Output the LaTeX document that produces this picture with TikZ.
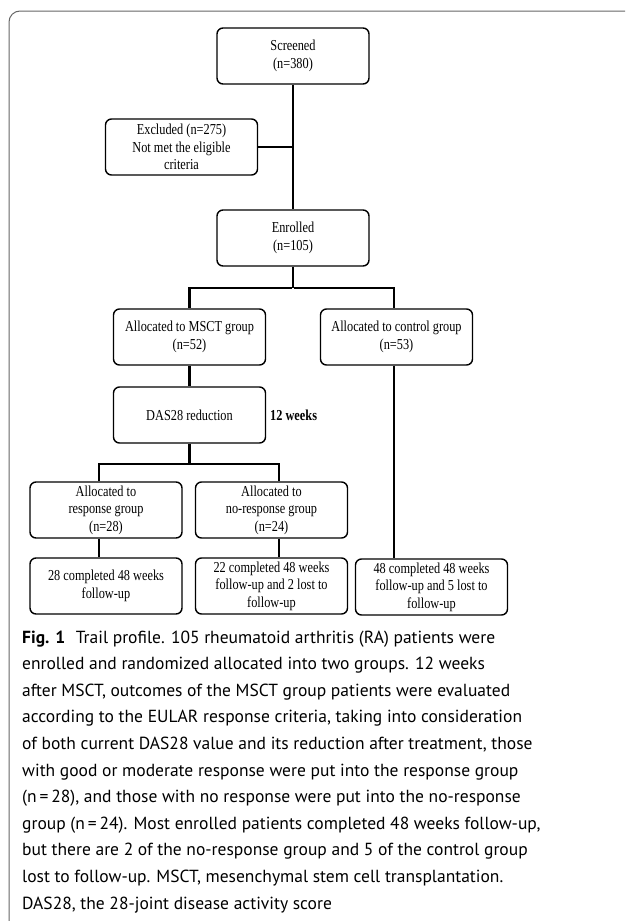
\documentclass[tikz,border=0pt]{standalone}
\usepackage{fontspec}
\setmainfont[FakeStretch=0.81]{Liberation Serif}
\newfontfamily\capfont{PT Sans}
\begin{document}
\begin{tikzpicture}[x=1pt,y=-1pt,
  box/.style={draw=black,line width=1.4pt,rounded corners=6pt,minimum width=152pt,minimum height=56pt,align=center,inner sep=2pt,font=\fontsize{15.2}{17.5}\selectfont},
  conn/.style={draw=black,line width=2.3pt},
  capline/.style={anchor=base west,inner sep=0pt,font=\capfont\fontsize{17.5}{26.6}\selectfont}]
\useasboundingbox (0,0) rectangle (625,921);
\begin{scope}
\clip (0,0) rectangle (625,921);
\draw[draw=black!60,line width=1pt,rounded corners=11pt] (9,11) rectangle (660,935);
\end{scope}
\node[box] (scr) at (293,56) {Screened\\(n=380)};
\node[box] (exc) at (181.5,147) {Excluded (n=275)\\Not met the eligible\\criteria};
\node[box] (enr) at (293,238) {Enrolled\\(n=105)};
\node[box] (msct) at (189.5,337) {Allocated to MSCT group\\(n=52)};
\node[box] (ctl) at (396.5,337) {Allocated to control group\\(n=53)};
\node[box] (das) at (189.5,415) {DAS28 reduction};
\node[anchor=west,inner sep=0pt,font=\bfseries\fontsize{15.2}{17.5}\selectfont] (wk) at (270,415) {12 weeks};
\node[box] (resp) at (106,510) {Allocated to\\response group\\(n=28)};
\node[box] (nresp) at (271.5,510) {Allocated to\\no-response group\\(n=24)};
\node[box] (c1) at (106,586) {28 completed 48 weeks\\follow-up};
\node[box] (c2) at (271.5,586) {22 completed 48 weeks\\follow-up and 2 lost to\\follow-up};
\node[box] (c3) at (431.5,587) {48 completed 48 weeks\\follow-up and 5 lost to\\follow-up};
% connectors
\draw[conn] (scr.south) -- (enr.north);
\draw[conn] (exc.east) -- (scr.south |- exc.east);
\draw[conn] (enr.south) -- ++(0,21) coordinate (b1);
\draw[conn] ([xshift=-1.1pt]b1) -| (msct.north);
\draw[conn] ([xshift=1.1pt]b1) -| ([xshift=-2.5pt]ctl.north);
\draw[conn] (msct.south) -- (das.north);
\draw[conn] (das.south) -- ++(0,20) coordinate (b2);
\draw[conn] ([xshift=1.1pt]b2) -| ([xshift=-7pt]resp.north);
\draw[conn] ([xshift=-1.1pt]b2) -| ([xshift=7.5pt]nresp.north);
\draw[conn] ([xshift=-7pt]resp.south) -- ([xshift=-7pt]c1.north);
\draw[conn] ([xshift=7.5pt]nresp.south) -- ([xshift=7.5pt]c2.north);
\draw[conn] ([xshift=-2.5pt]ctl.south) -- ([xshift=-2.5pt]ctl.south |- c3.north);
% caption
\node[capline] (l1) at (22,643) {\textbf{Fig. 1}\hspace{0.6em}Trail profile. 105 rheumatoid arthritis (RA) patients were};
\node[capline] (l2) at (22,669.6) {enrolled and randomized allocated into two groups. 12 weeks};
\node[capline] (l3) at (22,696.2) {after MSCT, outcomes of the MSCT group patients were evaluated};
\node[capline] (l4) at (22,722.8) {according to the EULAR response criteria, taking into consideration};
\node[capline] (l5) at (22,749.4) {of both current DAS28 value and its reduction after treatment, those};
\node[capline] (l6) at (22,776) {with good or moderate response were put into the response group};
\node[capline] (l7) at (22,802.6) {(n\,=\,28), and those with no response were put into the no-response};
\node[capline] (l8) at (22,829.2) {group (n\,=\,24). Most enrolled patients completed 48 weeks follow-up,};
\node[capline] (l9) at (22,855.8) {but there are 2 of the no-response group and 5 of the control group};
\node[capline] (l10) at (22,882.4) {lost to follow-up. MSCT, mesenchymal stem cell transplantation.};
\node[capline] (l11) at (22,909) {DAS28, the 28-joint disease activity score};
\end{tikzpicture}
\end{document}
